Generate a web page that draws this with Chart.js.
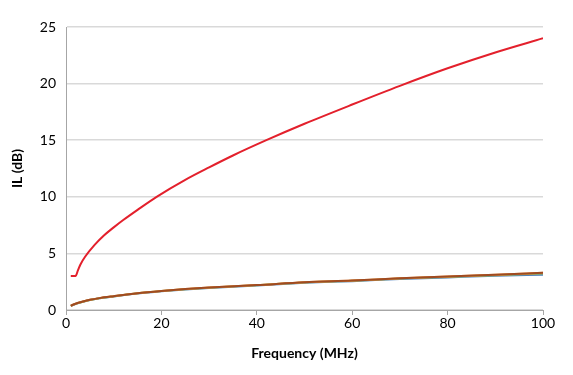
<!DOCTYPE html>
<html>
<head>
<meta charset="utf-8">
<script src="https://cdn.jsdelivr.net/npm/chart.js@4"></script>
<style>
  body { margin: 0; background: #fff; }
  #wrap { width: 573px; height: 375px; }
</style>
</head>
<body>
<div id="wrap"><canvas id="myChart" width="573" height="375"></canvas></div>
<script>
// Frequency points (MHz) for the red trace
const redFreq = [1, 2, 2.5, 3, 4, 6, 8, 10, 12, 15, 19, 25, 30, 35, 42, 50, 60, 70, 80, 90, 100];
const redIL   = [3, 3, 3.5, 4.0, 4.7, 5.75, 6.6, 7.3, 7.95, 8.85, 10.0, 11.5, 12.6, 13.65, 15.0, 16.45, 18.15, 19.8, 21.35, 22.75, 24.0];

// Lower traces share frequencies
const lowFreq   = [1, 2, 3, 5, 7, 10, 15, 20, 25, 30, 40, 50, 60, 70, 80, 90, 100];
const blueIL    = [0.36, 0.53, 0.66, 0.88, 1.03, 1.2, 1.45, 1.65, 1.82, 1.95, 2.17, 2.4, 2.55, 2.74, 2.88, 3.02, 3.12];
const greenIL   = [0.37, 0.54, 0.67, 0.89, 1.04, 1.21, 1.47, 1.67, 1.84, 1.97, 2.19, 2.43, 2.58, 2.78, 2.92, 3.08, 3.22];
const orangeIL  = [0.38, 0.55, 0.68, 0.9, 1.05, 1.22, 1.48, 1.68, 1.85, 1.98, 2.2, 2.45, 2.6, 2.8, 2.95, 3.12, 3.28];
const brownIL   = [0.38, 0.55, 0.68, 0.9, 1.05, 1.22, 1.48, 1.68, 1.85, 1.98, 2.2, 2.45, 2.6, 2.8, 2.95, 3.12, 3.28];

const xTicks = [0, 20, 40, 60, 80, 100];

function pts(xs, ys) {
    return xs.map((x, i) => ({ x: x, y: ys[i] }));
}

function line(data, color) {
    return {
        data: data,
        borderColor: color,
        backgroundColor: color,
        borderWidth: 2,
        pointRadius: 0,
        cubicInterpolationMode: 'monotone',
        fill: false
    };
}

// first dataset is drawn on top
const ctx = document.getElementById('myChart').getContext('2d');
const myChart = new Chart(ctx, {
    type: 'line',
    data: {
        datasets: [
            line(pts(redFreq, redIL), '#E3202C'),
            line(pts(lowFreq, brownIL), '#9E4B22'),
            line(pts(lowFreq, orangeIL), '#F79646'),
            line(pts(lowFreq, greenIL), '#9BBB59'),
            line(pts(lowFreq, blueIL), '#4F81BD')
        ]
    },
    options: {
        responsive: false,
        animation: false,
        layout: { padding: { left: 0, right: 30, top: 27, bottom: 13 } },
        plugins: { legend: { display: false }, tooltip: { enabled: false } },
        scales: {
            x: {
                type: 'linear',
                min: 0,
                max: 100,
                afterBuildTicks: axis => { axis.ticks = xTicks.map(v => ({ value: v })); },
                afterFit: axis => { axis.height = 52; },
                grid: { drawOnChartArea: false, tickLength: 5, color: '#A6A6A6' },
                border: { color: '#A6A6A6' },
                ticks: { color: '#000', padding: 0, font: { family: 'Lato', size: 14 } },
                title: {
                    display: true,
                    text: 'Frequency (MHz)',
                    color: '#000',
                    font: { family: 'Lato', size: 14, weight: 'bold' },
                    padding: { top: 4, bottom: 0 }
                }
            },
            y: {
                min: 0,
                max: 25,
                ticks: { stepSize: 5, color: '#000', padding: 10, font: { family: 'Lato', size: 14 } },
                afterFit: axis => { axis.width = 66; },
                grid: { color: '#D9D9D9', drawTicks: false, lineWidth: 1.5 },
                border: { color: '#A6A6A6' },
                title: {
                    display: true,
                    text: 'IL (dB)',
                    color: '#000',
                    font: { family: 'Lato', size: 14, weight: 'bold' },
                    padding: { top: 9, bottom: 0 }
                }
            }
        }
    }
});
</script>
</body>
</html>
